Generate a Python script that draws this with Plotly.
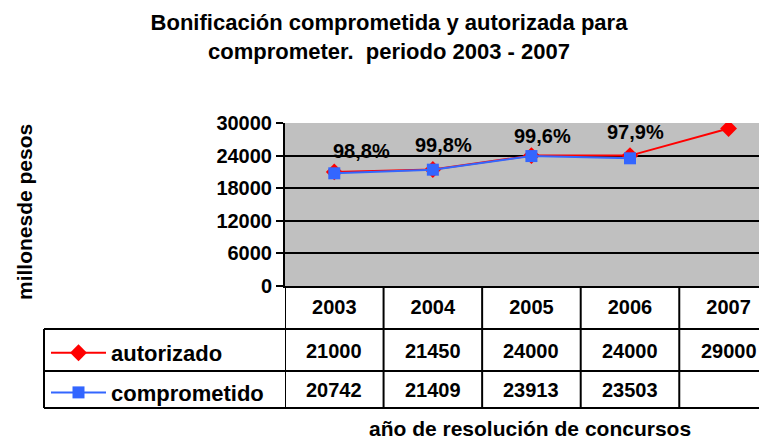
import plotly.graph_objects as go

# data
years = ['2003', '2004', '2005', '2006', '2007']
autorizado = [21000, 21450, 24000, 24000, 29000]
comprometido = [20742, 21409, 23913, 23503, None]
y_ticks = [0, 6000, 12000, 18000, 24000, 30000]

# the page body has an 8px margin, so the figure is shrunk by that much
OFF = 8
W, H = 767 - OFF, 441 - OFF
FONT = 'Liberation Sans, Arial, sans-serif'


def px_x(px):
    return (px - OFF) / W


def px_y(px):
    return 1 - (px - OFF) / H


def bold(size):
    return dict(family=FONT, size=size, color='black', weight='bold')


trace_aut = go.Scatter(
    name='autorizado', x=years, y=autorizado, mode='lines+markers',
    line=dict(color='#ff0000', width=2),
    marker=dict(symbol='diamond', size=13, color='#ff0000'),
    legendgroup='a'
)
trace_comp = go.Scatter(
    name='comprometido', x=years, y=comprometido, mode='lines+markers',
    line=dict(color='#3366ff', width=2),
    marker=dict(symbol='square', size=12, color='#3366ff'),
    legendgroup='c'
)

fig = go.Figure(data=[trace_aut, trace_comp])

# percentage labels (comprometido / autorizado)
label_shift = [(27, 22), (11, 25), (11, 20), (6, 26)]
for i, (a, c) in enumerate(zip(autorizado, comprometido)):
    if c is None:
        continue
    pct = f'{c / a * 100:.1f}%'.replace('.', ',')
    dx, dy = label_shift[i]
    fig.add_annotation(x=i, y=c, xref='x', yref='y', text=pct, showarrow=False,
                       xshift=dx, yshift=dy, font=bold(20))

# data table under the plot
row_y = [351, 390]
for row, vals in zip(row_y, [autorizado, comprometido]):
    for i, v in enumerate(vals):
        fig.add_annotation(x=i, y=px_y(row), xref='x', yref='paper',
                           xanchor='center', yanchor='middle',
                           text='' if v is None else str(v), showarrow=False,
                           font=bold(20))

line = dict(color='black', width=2)
for i in range(len(years)):
    fig.add_shape(type='line', xref='x', yref='paper', x0=i - 0.5, x1=i - 0.5,
                  y0=px_y(286), y1=px_y(408), line=line)
for yy in [329, 371, 408]:
    fig.add_shape(type='line', xref='paper', yref='paper', x0=px_x(44), x1=1,
                  y0=px_y(yy), y1=px_y(yy), line=line)
fig.add_shape(type='line', xref='paper', yref='paper', x0=px_x(44), x1=px_x(44),
              y0=px_y(329), y1=px_y(408), line=line)

fig.add_annotation(x=px_x(24), y=px_y(212), xref='paper', yref='paper',
                   xanchor='center', yanchor='middle',
                   text='millonesde pesos', textangle=-90, showarrow=False,
                   font=bold(21))
fig.add_annotation(x=px_x(530), y=px_y(428), xref='paper', yref='paper',
                   xanchor='center', yanchor='middle',
                   text='año de resolución de concursos', showarrow=False,
                   font=bold(21))

fig.update_layout(
    width=W, height=H,
    margin=dict(l=0, r=0, t=0, b=0, autoexpand=False),
    paper_bgcolor='white',
    plot_bgcolor='#c0c0c0',
    title=dict(text='Bonificación comprometida y autorizada para<br>comprometer.  periodo 2003 - 2007',
               x=px_x(389), xanchor='center', y=px_y(30), yanchor='middle',
               font=bold(22), automargin=False),
    showlegend=True,
    legend=dict(x=px_x(46), y=px_y(332), xanchor='left', yanchor='top',
                font=bold(22), itemwidth=55, tracegroupgap=8,
                bgcolor='rgba(0,0,0,0)'),
    xaxis=dict(type='category', domain=[px_x(285), 1], range=[-0.5, 4.39],
               automargin=False,
               showgrid=False, zeroline=False, showline=True, linecolor='black',
               linewidth=2, ticks='', tickfont=bold(20), ticklabelstandoff=2),
    yaxis=dict(domain=[px_y(286), px_y(123)], range=[0, 30000], tickvals=y_ticks,
               tickformat='d', automargin=False,
               showgrid=True, gridcolor='black', gridwidth=2, zeroline=False,
               showline=True, linecolor='black', linewidth=2, ticks='outside',
               ticklen=7, tickwidth=2, tickcolor='black', tickfont=bold(20)),
)

fig.write_html('out.html')
